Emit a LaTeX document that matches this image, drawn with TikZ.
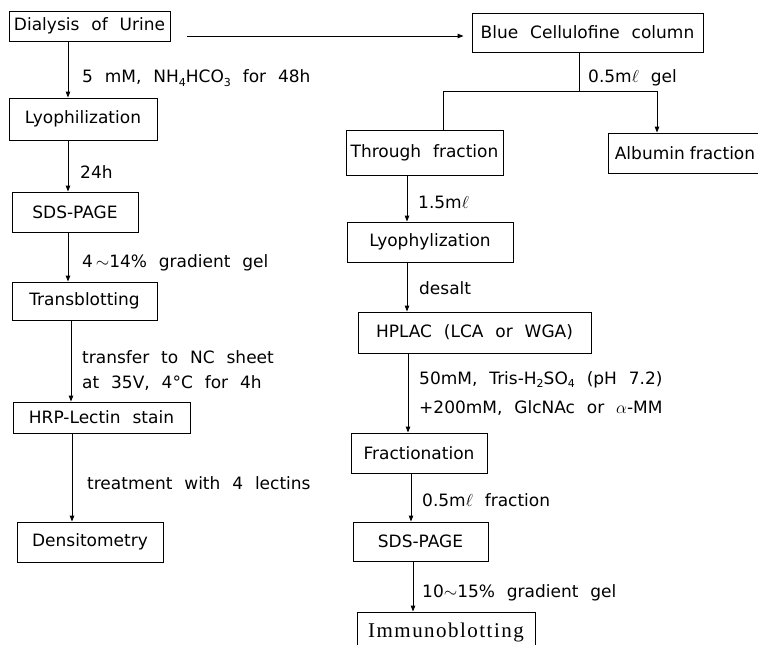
\documentclass[tikz,border=0pt]{standalone}
\usepackage{fontspec}
\setmainfont{DejaVu Sans}[WordSpace=2.2]
\newfontfamily\serifimm{Liberation Serif}[LetterSpace=7]
\usetikzlibrary{arrows.meta}
\newcommand\lowi[1]{\raisebox{-0.35ex}{\fontsize{11}{11}\selectfont #1}}
\begin{document}
\begin{tikzpicture}[x=1pt,y=-1pt,
  box/.style={draw, line width=0.9pt, inner sep=0pt, font=\fontsize{17}{20}\selectfont},
  lab/.style={anchor=west, inner sep=0pt, font=\fontsize{17}{20}\selectfont},
  arr/.style={line width=0.9pt, -{Triangle[length=6pt,width=4.5pt]}},
  ln/.style={line width=0.9pt}]
\useasboundingbox[fill=white] (0,0) rectangle (758,645);

% left column
\node[box, minimum width=161pt, minimum height=30pt] (dial) at (89.5,26) {Dialysis of Urine};
\node[box, minimum width=148pt, minimum height=42pt] (lyo1) at (83,119) {Lyophilization};
\node[box, minimum width=126pt, minimum height=40pt] (sds1) at (75,212) {SDS-PAGE};
\node[box, minimum width=145pt, minimum height=38pt] (trans) at (84.5,301) {Transblotting};
\node[box, minimum width=177pt, minimum height=31pt] (hrp) at (101.5,417.5) {HRP-Lectin stain};
\node[box, minimum width=146pt, minimum height=40pt] (dens) at (90,542) {Densitometry};

% right column
\node[box, minimum width=231pt, minimum height=39pt] (blue) at (587.5,32.5) {Blue Cellulofine column};
\node[box, minimum width=157pt, minimum height=45pt] (thr) at (424.5,152.5) {Through fraction};
\node[box, minimum width=154pt, minimum height=40pt] (alb) at (685,153) {Albumin\hspace{5pt}fraction};
\node[box, minimum width=166pt, minimum height=40pt] (lyo2) at (430,242) {Lyophylization};
\node[box, minimum width=233pt, minimum height=41pt] (hplac) at (474.5,332.5) {HPLAC (LCA or WGA)};
\node[box, minimum width=136pt, minimum height=40pt] (frac) at (419,453) {Fractionation};
\node[box, minimum width=135pt, minimum height=39pt] (sds2) at (420.5,541.5) {SDS-PAGE};
\node[box, minimum width=178pt, minimum height=40pt, font=\serifimm\fontsize{21}{24}\selectfont] (immu) at (446,632) {Immunoblotting};

% connector x positions
\coordinate (cA) at (68,0);
\coordinate (cB) at (71,0);
\coordinate (cC) at (72,0);
\coordinate (cD) at (407,0);
\coordinate (cE) at (408,0);
\coordinate (cF) at (411,0);
\coordinate (cG) at (413,0);
\coordinate (hs) at (187,36);
\coordinate (sp) at (579,91);
\coordinate (spL) at (443,91);
\coordinate (spR) at (657,91);

% left connectors
\draw[arr] (dial.south -| cA) -- (lyo1.north -| cA);
\draw[arr] (lyo1.south -| cA) -- (sds1.north -| cA);
\draw[arr] (sds1.south -| cA) -- (trans.north -| cA);
\draw[arr] (trans.south -| cB) -- (hrp.north -| cB);
\draw[arr] (hrp.south -| cC) -- (dens.north -| cC);

% cross connector
\draw[arr, shorten >=8pt] (hs) -- (hs -| blue.west);

% split
\draw[ln] (blue.south -| sp) -- (sp);
\draw[ln] (sp) -- (spL) -- (thr.north -| spL);
\draw[arr] (sp) -- (spR) -- (alb.north -| spR);

% right connectors
\draw[arr] (thr.south -| cD) -- (lyo2.north -| cD);
\draw[arr] (lyo2.south -| cD) -- (hplac.north -| cD);
\draw[arr] (hplac.south -| cE) -- (frac.north -| cE);
\draw[arr] (frac.south -| cF) -- (sds2.north -| cF);
\draw[arr] (sds2.south -| cG) -- (immu.north -| cG);

% labels left
\node[lab] (l1) at (82,78) {5 mM, NH\lowi{4}HCO\lowi{3} for 48h};
\node[lab] (l2) at (80,172) {24h};
\node[lab] (l3) at (82,263) {4\,$\sim$14\% gradient gel};
\node[lab] (l4) at (82,357) {transfer to NC sheet};
\node[lab] (l5) at (82,383) {at 35V, 4°C for 4h};
\node[lab] (l6) at (87,483) {treatment with 4 lectins};

% labels right
\node[lab] (r1) at (588,78) {0.5m$\ell$ gel};
\node[lab] (r2) at (418,202) {1.5m$\ell$};
\node[lab] (r3) at (419,288) {desalt};
\node[lab] (r4) at (419,380) {50mM, Tris-H\lowi{2}SO\lowi{4} (pH 7.2)};
\node[lab] (r5) at (419,408) {+200mM, GlcNAc or $\alpha$-MM};
\node[lab] (r6) at (422,500) {0.5m$\ell$ fraction};
\node[lab] (r7) at (422,593) {10$\sim$15\% gradient gel};
\end{tikzpicture}
\end{document}
